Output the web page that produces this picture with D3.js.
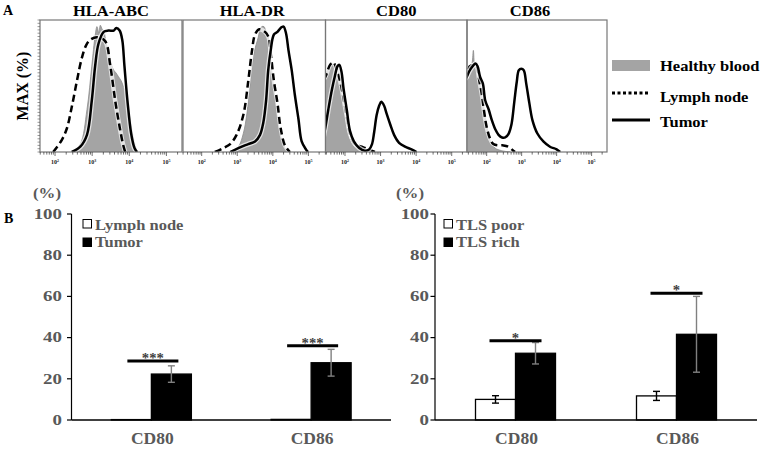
<!DOCTYPE html>
<html>
<head>
<meta charset="utf-8">
<script src="https://cdn.jsdelivr.net/npm/d3@7"></script>
<style>
  html, body { margin: 0; padding: 0; background: #fff; }
  svg { display: block; }
  text { font-family: "Liberation Serif", "Times New Roman", serif; font-weight: bold; }
</style>
</head>
<body>
<svg id="chart" width="765" height="451"></svg>
<script>
// ---------------- DATA ----------------
// Panel A: flow cytometry histograms, points are [log10(intensity), % of max]
const histTitles = ["HLA-ABC", "HLA-DR", "CD80", "CD86"];
const histLegend = ["Healthy blood", "Lymph node", "Tumor"];
const decadeTicks = [2, 3, 4, 5];

const abcHealthy = [[2.45,0],[2.68,6],[2.86,32],[2.99,65],[3.08,88],[3.13,95],[3.18,90],[3.22,96],[3.27,93],[3.31,92],[3.38,82],[3.44,77],[3.52,66],[3.58,62],[3.64,60],[3.71,57],[3.78,54],[3.85,49],[3.92,42],[3.98,32],[4.05,20],[4.12,9],[4.21,0]];
const abcLymph   = [[1.95,0],[2.18,9],[2.32,18],[2.45,34],[2.59,54],[2.72,71],[2.84,81],[2.95,85],[3.13,87],[3.35,84],[3.49,65],[3.62,39],[3.74,19],[3.83,6],[3.89,0]];
const abcTumor   = [[2.45,0],[2.68,4],[2.86,13],[2.99,39],[3.08,65],[3.17,82],[3.31,91],[3.44,92],[3.58,92],[3.65,94],[3.74,92],[3.81,85],[3.87,65],[3.95,39],[4.05,14],[4.14,3],[4.21,0]];

const drHealthy = [[2.80,0],[3.03,4],[3.17,14],[3.27,29],[3.36,52],[3.47,75],[3.59,87],[3.64,93],[3.69,95],[3.75,95],[3.80,92],[3.85,90],[3.92,75],[4.00,54],[4.09,34],[4.20,14],[4.34,3],[4.44,0]];
const drLymph   = [[2.37,0],[2.61,3],[2.80,6],[2.98,13],[3.17,28],[3.31,54],[3.41,76],[3.50,89],[3.62,93],[3.78,91],[3.88,87],[3.94,75],[4.03,54],[4.13,37],[4.22,18],[4.34,5],[4.48,0]];
const drTumor   = [[2.80,0],[3.03,3],[3.31,6],[3.50,8],[3.64,13],[3.73,22],[3.81,39],[3.87,62],[3.94,77],[4.03,89],[4.13,91],[4.22,94],[4.30,95],[4.37,90],[4.44,77],[4.53,62],[4.62,43],[4.72,25],[4.81,8],[4.93,2],[4.99,0]];

const cd80Healthy = [[1.40,58],[1.45,59],[1.53,63],[1.61,68],[1.67,65],[1.75,65],[1.84,61],[1.93,47],[2.03,32],[2.12,18],[2.22,9],[2.33,4],[2.52,1],[2.70,0]];
const cd80Lymph   = [[1.40,55],[1.45,57],[1.58,66],[1.67,68],[1.77,62],[1.86,54],[1.95,42],[2.05,27],[2.14,14],[2.28,6],[2.47,4],[2.66,2],[2.84,0]];
const cd80Tumor   = [[1.40,12],[1.45,19],[1.53,32],[1.63,47],[1.72,58],[1.79,65],[1.84,66],[1.90,61],[1.96,48],[2.05,32],[2.14,16],[2.25,8],[2.40,3],[2.56,1],[2.68,2],[2.76,6],[2.82,15],[2.89,28],[2.96,35],[3.02,38],[3.10,35],[3.17,29],[3.27,21],[3.38,13],[3.52,7],[3.69,4],[3.87,2],[4.01,0]];

const cd86Healthy = [[1.38,52],[1.43,54],[1.50,62],[1.58,67],[1.62,77],[1.66,66],[1.71,68],[1.78,61],[1.85,51],[1.92,34],[2.02,18],[2.11,8],[2.24,3],[2.43,1],[2.67,0]];
const cd86Lymph   = [[1.38,55],[1.43,57],[1.52,65],[1.62,66],[1.71,65],[1.79,54],[1.86,44],[1.92,32],[2.00,19],[2.10,10],[2.19,6],[2.33,5],[2.48,5],[2.62,4],[2.76,1],[2.81,0]];
const cd86Tumor   = [[1.38,55],[1.43,57],[1.52,62],[1.60,65],[1.68,67],[1.74,65],[1.81,57],[1.89,52],[1.96,39],[2.06,32],[2.15,24],[2.25,17],[2.34,13],[2.44,11],[2.53,11],[2.63,14],[2.71,21],[2.79,38],[2.86,53],[2.92,62],[2.99,63],[3.06,62],[3.13,52],[3.22,37],[3.31,24],[3.45,14],[3.62,8],[3.81,4],[4.00,2],[4.10,0]];

// Panel B: bar charts (% positive cells), mean and error
const barCategories = ["CD80", "CD86"];
const yTicks = [0, 20, 40, 60, 80, 100];

const leftSeries = ["Lymph node", "Tumor"];
const lymphNodeValues = [0.2, 0.3];
const lymphNodeErr = [0, 0];
const tumorValues = [22.3, 27.8];
const tumorErr = [4.0, 6.5];
const leftSigLevels = [28.6, 36.0];
const leftSigLabels = ["***", "***"];

const rightSeries = ["TLS poor", "TLS rich"];
const tlsPoorValues = [10.0, 11.7];
const tlsPoorErr = [1.8, 2.2];
const tlsRichValues = [32.4, 41.6];
const tlsRichErr = [5.2, 18.4];
const rightSigLevels = [38.5, 61.5];
const rightSigLabels = ["*", "*"];

// ---------------- DRAWING ----------------
const svg = d3.select("#chart");

function stext(g, x, y, str, o) {
  o = o || {};
  const t = g.append("text")
    .attr("transform", `translate(${x},${y}) scale(${o.sx || 1},1)`)
    .attr("font-size", o.size || 14)
    .attr("fill", o.fill || "#000")
    .attr("text-anchor", o.anchor || "start")
    .text(str);
  return t;
}

// ----- Panel A -----
const hTop = 20, hBottom = 152;
const panels = [
  { x0: 40,    x1: 182,   lo: 1.595, hi: 5.42, data: [abcHealthy, abcLymph, abcTumor] },
  { x0: 183,   x1: 325.5, lo: 1.475, hi: 5.48, data: [drHealthy, drLymph, drTumor] },
  { x0: 325.5, x1: 467,   lo: 1.452, hi: 5.43, data: [cd80Healthy, cd80Lymph, cd80Tumor] },
  { x0: 467,   x1: 607,   lo: 1.438, hi: 5.44, data: [cd86Healthy, cd86Lymph, cd86Tumor] }
];
const titleOffsets = [0, -2, 0, -7];

const yH = d3.scaleLinear().domain([0, 100]).range([hBottom, hTop]);

stext(svg, 3, 15, "A", { size: 14 });
svg.append("text")
  .attr("transform", `translate(28,${(hTop + hBottom) / 2}) rotate(-90)`)
  .attr("text-anchor", "middle").attr("font-size", 16).text("MAX (%)");

panels.forEach((p, i) => {
  const g = svg.append("g");
  const x = d3.scaleLog().domain([Math.pow(10, p.lo), Math.pow(10, p.hi)]).range([p.x0, p.x1]);
  const clipId = "clip" + i;
  svg.append("clipPath").attr("id", clipId).append("rect")
    .attr("x", p.x0).attr("y", hTop).attr("width", p.x1 - p.x0).attr("height", hBottom - hTop);
  const plot = g.append("g").attr("clip-path", `url(#${clipId})`);

  const toPts = arr => arr.map(d => [x(Math.pow(10, d[0])), yH(d[1])]);
  const line = d3.line().curve(d3.curveCatmullRom.alpha(0.5));
  const area = d3.area().curve(d3.curveCatmullRom.alpha(0.5))
    .x(d => d[0]).y0(yH(0)).y1(d => d[1]);

  const [hb, ln, tu] = p.data;
  plot.append("path").attr("d", area(toPts(hb)))
    .attr("fill", "#a4a4a4").attr("stroke", "#8a8a8a").attr("stroke-width", 0.8);
  // lymph node dashed
  plot.append("path").attr("d", line(toPts(ln))).attr("fill", "none")
    .attr("stroke", "#fff").attr("stroke-width", 4.5).attr("stroke-opacity", 0.7);
  plot.append("path").attr("d", line(toPts(ln))).attr("fill", "none")
    .attr("stroke", "#000").attr("stroke-width", 2.5).attr("stroke-dasharray", "7,4");
  // tumor solid
  plot.append("path").attr("d", line(toPts(tu))).attr("fill", "none")
    .attr("stroke", "#fff").attr("stroke-width", 5).attr("stroke-opacity", 0.7);
  plot.append("path").attr("d", line(toPts(tu))).attr("fill", "none")
    .attr("stroke", "#000").attr("stroke-width", 2.5).attr("stroke-linejoin", "round");

  // box
  g.append("rect").attr("x", p.x0).attr("y", hTop).attr("width", p.x1 - p.x0).attr("height", hBottom - hTop)
    .attr("fill", "none").attr("stroke", "#777").attr("stroke-width", 1.2);

  // bottom log ticks
  const tickG = g.append("g");
  for (let dcd = Math.floor(p.lo); dcd <= Math.ceil(p.hi); dcd++) {
    for (let k = 1; k <= 9; k++) {
      const v = k * Math.pow(10, dcd);
      const lv = Math.log10(v);
      if (lv < p.lo || lv > p.hi) continue;
      const xx = x(v);
      tickG.append("line").attr("x1", xx).attr("x2", xx)
        .attr("y1", hBottom).attr("y2", hBottom + (k === 1 ? 4 : 2.6))
        .attr("stroke", "#333").attr("stroke-width", 0.7);
    }
  }
  decadeTicks.forEach(d => {
    const xx = x(Math.pow(10, d));
    const t = tickG.append("text").attr("x", xx).attr("y", 164)
      .attr("font-size", 6).attr("font-weight", "normal").attr("text-anchor", "middle").attr("fill", "#222");
    t.append("tspan").text("10");
    t.append("tspan").attr("dy", -2.5).attr("font-size", 4).text(String(d));
  });

  // left ticks on first panel
  if (i === 0) {
    d3.range(0, 101, 2.5).forEach(v => {
      g.append("line").attr("x1", p.x0 - 2.5).attr("x2", p.x0)
        .attr("y1", yH(v)).attr("y2", yH(v)).attr("stroke", "#555").attr("stroke-width", 0.6);
    });
  }

  // title
  stext(g, (p.x0 + p.x1) / 2 + titleOffsets[i], 16, histTitles[i], { size: 15, anchor: "middle", sx: 1.1 });
});

// legend A
const lgA = svg.append("g");
lgA.append("rect").attr("x", 612).attr("y", 60).attr("width", 38).attr("height", 11).attr("fill", "#a4a4a4");
lgA.append("line").attr("x1", 612).attr("x2", 650).attr("y1", 93).attr("y2", 93)
  .attr("stroke", "#000").attr("stroke-width", 3).attr("stroke-dasharray", "3,2.5");
lgA.append("line").attr("x1", 612).attr("x2", 650).attr("y1", 120).attr("y2", 120)
  .attr("stroke", "#000").attr("stroke-width", 3);
[71, 101.5, 127].forEach((yy, i) => stext(lgA, 660, yy, histLegend[i], { size: 15, sx: 1.1 }));

// ----- Panel B -----
const yB = d3.scaleLinear().domain([0, 100]).range([420, 214]);
const textGray = "#595959";

stext(svg, 4, 223, "B", { size: 14 });

function barChart(opts) {
  const g = svg.append("g");
  const xBand = d3.scaleBand().domain(barCategories).range([opts.x0, opts.x1]);
  const inner = d3.scaleBand().domain(opts.series).range([0, 80]);
  const gx = c => xBand(c) + xBand.bandwidth() / 2 - 40;

  // y axis
  g.append("line").attr("x1", opts.x0).attr("x2", opts.x0).attr("y1", yB(100)).attr("y2", yB(0))
    .attr("stroke", "#000").attr("stroke-width", 1.2);
  yTicks.forEach(t => {
    g.append("line").attr("x1", opts.x0 - 4.5).attr("x2", opts.x0).attr("y1", yB(t)).attr("y2", yB(t))
      .attr("stroke", "#000").attr("stroke-width", 1.2);
    stext(g, opts.labelX, yB(t) + 4.8, String(t), { size: 14, anchor: "end", sx: 1.35, fill: textGray });
  });
  stext(g, opts.pctX, 197.5, "(%)", { size: 14, sx: 1.2, fill: textGray });

  // bars
  const series = [
    { vals: opts.vals[0], errs: opts.errs[0], fill: "#fff", stroke: "#000", errColor: "#000" },
    { vals: opts.vals[1], errs: opts.errs[1], fill: "#000", stroke: "#000", errColor: "#808080" }
  ];
  series.forEach((s, si) => {
    barCategories.forEach((c, ci) => {
      const bx = gx(c) + inner(opts.series[si]);
      const bw = inner.bandwidth();
      const v = s.vals[ci];
      g.append("rect").attr("x", bx).attr("y", yB(v)).attr("width", bw).attr("height", yB(0) - yB(v))
        .attr("fill", s.fill).attr("stroke", s.stroke).attr("stroke-width", 1.3);
      const e = s.errs[ci];
      if (e > 0) {
        const cx = bx + bw / 2;
        g.append("line").attr("x1", cx).attr("x2", cx).attr("y1", yB(v + e)).attr("y2", yB(v - e))
          .attr("stroke", s.errColor).attr("stroke-width", 1.4);
        [v + e, v - e].forEach(ev => g.append("line").attr("x1", cx - 3.5).attr("x2", cx + 3.5)
          .attr("y1", yB(ev)).attr("y2", yB(ev)).attr("stroke", s.errColor).attr("stroke-width", 1.4));
      }
    });
  });

  // x axis
  g.append("line").attr("x1", opts.x0).attr("x2", opts.x1).attr("y1", yB(0)).attr("y2", yB(0))
    .attr("stroke", "#000").attr("stroke-width", 1.5);
  barCategories.forEach(c => {
    stext(g, xBand(c) + xBand.bandwidth() / 2 + 1, 444, c, { size: 17.5, anchor: "middle", fill: textGray });
  });

  // significance
  barCategories.forEach((c, ci) => {
    const lx0 = gx(c) + opts.sigOff[0], lx1 = gx(c) + opts.sigOff[1];
    const ly = yB(opts.sigLevels[ci]);
    g.append("line").attr("x1", lx0).attr("x2", lx1).attr("y1", ly).attr("y2", ly)
      .attr("stroke", "#000").attr("stroke-width", 3);
    stext(g, (lx0 + lx1) / 2, ly + 2, opts.sigLabels[ci], { size: 14, anchor: "middle", fill: "#404040", sx: 1.05 });
  });

  // legend
  [["#fff", 219.5, 229.5], ["#000", 238, 246.5]].forEach((d, i) => {
    g.append("rect").attr("x", opts.legX).attr("y", d[1]).attr("width", 8.5).attr("height", 8.5)
      .attr("fill", d[0]).attr("stroke", "#000").attr("stroke-width", 1);
    stext(g, opts.legX + 12, d[2], opts.series[i], { size: 15, sx: 1.1, fill: textGray });
  });
}

barChart({
  x0: 71.5, x1: 391, labelX: 62, pctX: 33, legX: 83,
  series: leftSeries, vals: [lymphNodeValues, tumorValues], errs: [lymphNodeErr, tumorErr],
  sigLevels: leftSigLevels, sigLabels: leftSigLabels, sigOff: [16, 67]
});
barChart({
  x0: 435, x1: 757, labelX: 429, pctX: 396, legX: 444,
  series: rightSeries, vals: [tlsPoorValues, tlsRichValues], errs: [tlsPoorErr, tlsRichErr],
  sigLevels: rightSigLevels, sigLabels: rightSigLabels, sigOff: [14, 66]
});
</script>
</body>
</html>
